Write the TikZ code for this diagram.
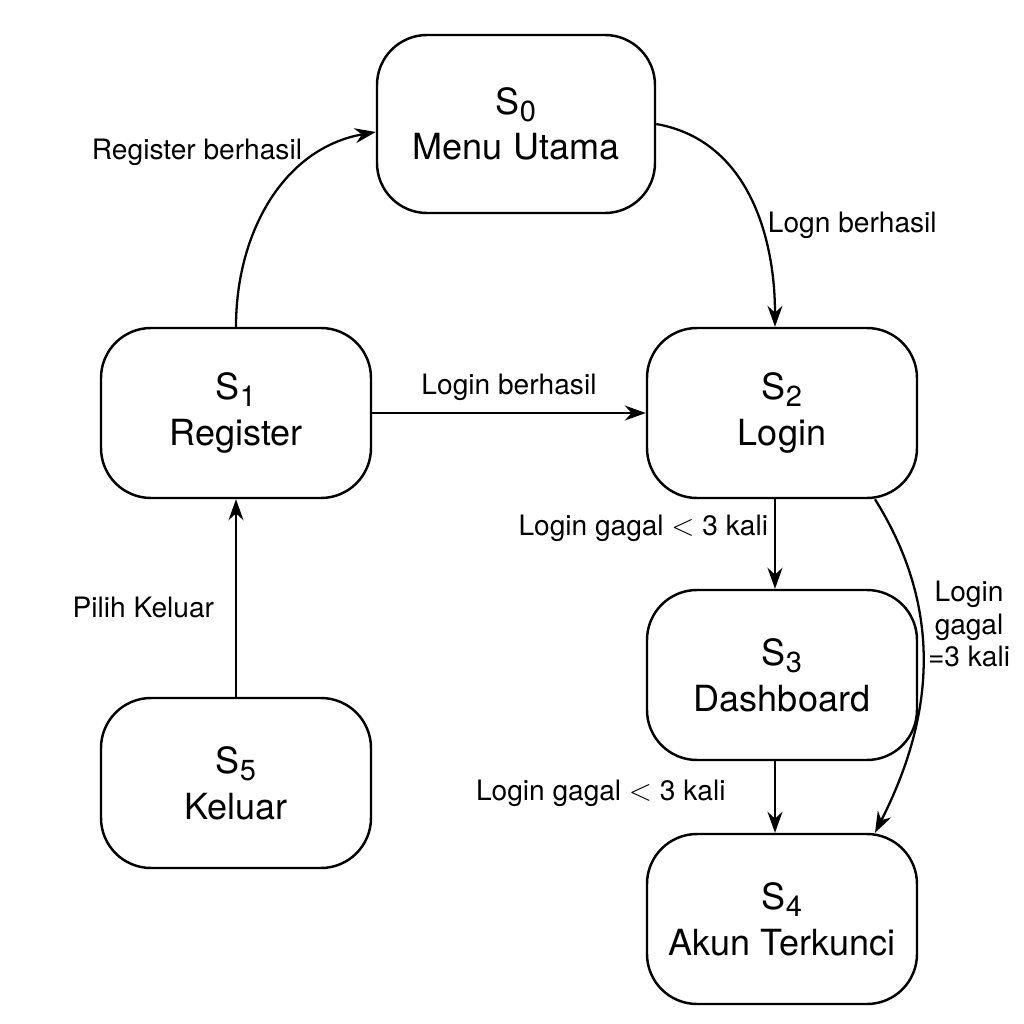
\documentclass[tikz,border=0pt]{standalone}
\usepackage{fontspec}
\setmainfont{TeX Gyre Heros}
\usepackage{tikz}
\usetikzlibrary{positioning,arrows.meta}

\newcommand{\stname}[2]{S\raisebox{-4pt}{\fontsize{16.5}{16.5}\selectfont #1}\\#2}

\tikzset{
  stbox/.style={draw, rectangle, rounded corners=1cm, line width=1.4pt,
    minimum width=5.4cm, minimum height=3.4cm, align=center,
    font=\fontsize{20.5}{26}\selectfont},
  lbl/.style={font=\fontsize{16}{18.5}\selectfont, align=center}
}

\begin{document}
\begin{tikzpicture}[-{Stealth[length=0.42cm, width=0.3cm]}, line width=1.3pt]

  \useasboundingbox (-4.72,8.26) rectangle (15.76,-12.22);

  \node[stbox] (s1) {\stname{1}{Register}};
  \node[stbox, node distance=10.92cm, right of=s1] (s2) {\stname{2}{Login}};
  \node[stbox, node distance=5.24cm, below of=s2] (s3) {\stname{3}{Dashboard}};
  \node[stbox, node distance=4.88cm, below of=s3] (s4) {\stname{4}{Akun Terkunci}};
  \node[stbox, node distance=7.4cm, below of=s1] (s5) {\stname{5}{Keluar}};
  \node[stbox, minimum width=5.56cm, minimum height=3.56cm] (s0) at (5.6,5.78) {\stname{0}{Menu Utama}};

  \path
    (s1.north) edge[out=90, in=190] node[lbl, pos=0.78, left=7pt]{Register berhasil} ([yshift=-0.16cm]s0.west)
    (s0.east) edge[out=-10, in=90] node[lbl, pos=0.62, right]{Logn berhasil} ([xshift=-0.14cm]s2.north);

  \path
    (s1.east) edge node[lbl, above=3pt]{Login berhasil} (s2.west);

  \path
    ([xshift=-0.14cm]s2.south) edge node[lbl, pos=0.33, left]{Login gagal $<$ 3 kali} ([xshift=-0.14cm]s3.north)
    ([xshift=1.86cm]s2.south) edge[out=-58, in=63] node[lbl, pos=0.38, right]{Login\\gagal\\=3 kali} ([xshift=1.86cm]s4.north);

  \path
    ([xshift=-0.14cm]s3.south) edge node[lbl, pos=0.45, left=0.85cm]{Login gagal $<$ 3 kali} ([xshift=-0.14cm]s4.north);

  \path
    (s5.north) edge node[lbl, pos=0.45, left=0.3cm]{Pilih Keluar} (s1.south);

\end{tikzpicture}
\end{document}
